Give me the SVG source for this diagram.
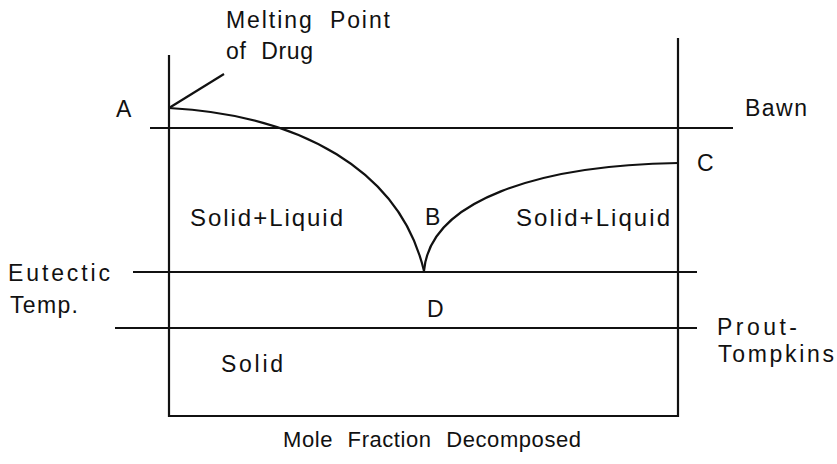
<svg xmlns="http://www.w3.org/2000/svg" width="837" height="464" viewBox="0 0 837 464">
<style>
.ln{stroke:#111;stroke-width:2.2;fill:none;stroke-linecap:butt}
.t{font-family:"Liberation Sans",Arial,sans-serif;font-size:23px;fill:#111}
.ws{word-spacing:8px}
</style>
<rect width="837" height="464" fill="#fff"/>
<g id="frame">
<line class="ln" x1="169" y1="55" x2="169" y2="417"/>
<line class="ln" x1="678" y1="38" x2="678" y2="417"/>
<line class="ln" x1="168" y1="416" x2="679" y2="416"/>
</g>
<g id="connectors">
<line class="ln" x1="150" y1="128" x2="733" y2="128"/>
<line class="ln" x1="133" y1="272" x2="697" y2="272"/>
<line class="ln" x1="115" y1="328" x2="697" y2="328"/>
<line class="ln" x1="169" y1="108" x2="224" y2="74"/>
<path class="ln" d="M169,108 C300,115 400,170 424,271"/>
<path class="ln" d="M424,271 C430,200 540,165 678,163"/>
</g>
<g id="labels">
<text class="t ws" x="226" y="28" textLength="164" lengthAdjust="spacing">Melting Point</text>
<text class="t ws" x="226" y="59" textLength="87" lengthAdjust="spacing">of Drug</text>
<text class="t" x="116" y="117">A</text>
<text class="t" x="745" y="116" textLength="62" lengthAdjust="spacing">Bawn</text>
<text class="t" x="697" y="171">C</text>
<text class="t" x="425" y="225">B</text>
<text class="t" x="190" y="226" style="font-size:24px" textLength="153" lengthAdjust="spacing">Solid+Liquid</text>
<text class="t" x="516" y="226" style="font-size:24px" textLength="154" lengthAdjust="spacing">Solid+Liquid</text>
<text class="t" x="8" y="281" textLength="102" lengthAdjust="spacing">Eutectic</text>
<text class="t" x="10" y="313" textLength="68" lengthAdjust="spacing">Temp.</text>
<text class="t" x="427" y="317">D</text>
<text class="t" x="717" y="335" textLength="80" lengthAdjust="spacing">Prout-</text>
<text class="t" x="718" y="362" textLength="116" lengthAdjust="spacing">Tompkins</text>
<text class="t" x="221" y="372" textLength="62" lengthAdjust="spacing">Solid</text>
<text class="t ws" x="283" y="447" style="font-size:22px" textLength="298" lengthAdjust="spacing">Mole Fraction Decomposed</text>
</g>
</svg>
